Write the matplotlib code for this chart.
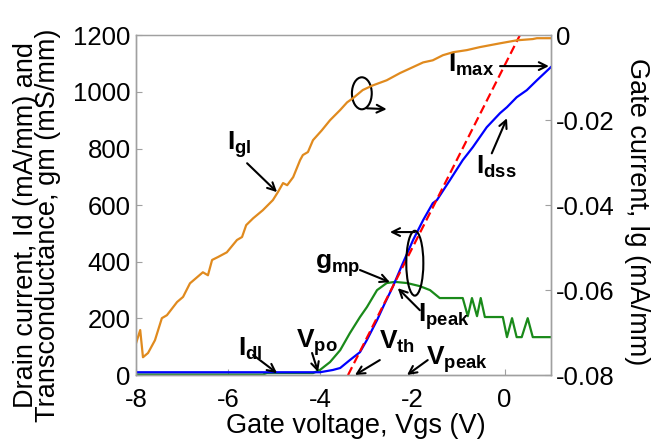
import numpy as np
import matplotlib
matplotlib.use('Agg')
import matplotlib.pyplot as plt
from matplotlib.patches import Ellipse

plt.rcParams['font.family'] = ['Liberation Sans', 'DejaVu Sans']
plt.rcParams['axes.unicode_minus'] = False
plt.rcParams['mathtext.fontset'] = 'custom'
plt.rcParams['mathtext.rm'] = 'Liberation Sans'
plt.rcParams['mathtext.bf'] = 'Liberation Sans:bold'

# gate leakage current Ig (right axis, mA/mm)
vg_ig = [-8.00, -7.91, -7.85, -7.74, -7.59, -7.44, -7.33, -7.11, -6.98, -6.83,
         -6.55, -6.44, -6.35, -6.22, -6.03, -5.81, -5.70, -5.61, -5.46, -5.25,
         -5.03, -4.92, -4.81, -4.72, -4.59, -4.44, -4.38, -4.27, -4.16, -3.97,
         -3.79, -3.57, -3.42, -3.29, -3.08, -2.86, -2.56, -2.27, -1.99, -1.77,
         -1.56, -1.34, -1.12, -0.82, -0.54, -0.10, 0.26, 0.61, 0.70, 1.00]
ig = [-0.0725, -0.0694, -0.0758, -0.0748, -0.0718, -0.0666, -0.0659, -0.0628, -0.0616, -0.0584,
      -0.0558, -0.0565, -0.0529, -0.0522, -0.0511, -0.0482, -0.0475, -0.0447, -0.0431, -0.0412,
      -0.0388, -0.0369, -0.0348, -0.0353, -0.0334, -0.0294, -0.0282, -0.0275, -0.0247, -0.0224,
      -0.0200, -0.0176, -0.0158, -0.0148, -0.0129, -0.0118, -0.0106, -0.0089, -0.0075, -0.0064,
      -0.0059, -0.0047, -0.0040, -0.0035, -0.0028, -0.0019, -0.0012, -0.0009, -0.0007, -0.0007]

# drain current Id (mA/mm)
vg_id = [-8.00, -4.01, -3.73, -3.57, -3.36, -3.14, -2.99, -2.77, -2.60, -2.43,
         -2.21, -1.99, -1.77, -1.56, -1.47, -1.19, -0.91, -0.69, -0.39, -0.10,
         0.05, 0.26, 0.48, 0.70, 1.00]
id_ = [10, 10, 18, 25, 53, 81, 124, 194, 254, 311,
       395, 476, 547, 607, 618, 688, 759, 805, 875, 925,
       946, 981, 1006, 1041, 1087]

# transconductance gm (mS/mm)
vg_gm = [-8.00, -5.25, -5.16, -4.16, -4.01, -3.79, -3.57, -3.36, -3.14, -2.99,
         -2.77, -2.56, -2.38, -2.12, -1.84, -1.62, -1.41, -0.91, -0.80, -0.71,
         -0.60, -0.52, -0.43, -0.04, 0.05, 0.16, 0.26, 0.37, 0.50, 0.61, 1.00]
gm = [2, 2, 7, 7, 18, 46, 88, 148, 205, 240,
      300, 325, 329, 325, 314, 300, 272, 272, 208, 272,
      208, 272, 205, 205, 134, 201, 134, 134, 201, 134, 134]

# linear extrapolation of Id at peak gm
vg_fit = [-3.40, 0.33]
id_fit = [0, 1200]

fig = plt.figure(figsize=(6.51, 4.46), dpi=100)
ax = fig.add_axes([0.209, 0.159, 0.637, 0.762])
ax2 = ax.twinx()

ax.plot(vg_id, id_, color='#0000ff', lw=1.6, zorder=3)
ax.plot(vg_gm, gm, color='#1a8a1a', lw=1.6, zorder=2)
ax.plot(vg_fit, id_fit, color='#ff0000', lw=1.6, ls=(0, (4, 2)), zorder=4)
ax2.plot(vg_ig, ig, color='#e08a1e', lw=1.6)

ax.set_xlim(-8, 1)
ax.set_ylim(0, 1200)
ax2.set_ylim(-0.08, 0)
ax.set_xticks([-8, -6, -4, -2, 0])
ax.set_yticks(np.arange(0, 1201, 200))
ax2.set_yticks([0, -0.02, -0.04, -0.06, -0.08])
ax2.set_yticklabels(['0', '-0.02', '-0.04', '-0.06', '-0.08'])

for a in (ax, ax2):
    for s in a.spines.values():
        s.set_color('#a0a0a0')
        s.set_linewidth(1.0)
    a.tick_params(direction='in', length=4, color='#a0a0a0', labelsize=18.5, pad=4)
ax.tick_params(axis='x', pad=9)
ax.spines['top'].set_color('#e8e8e8')

lab_fs = 19.5
ax.set_xlabel('Gate voltage, Vgs (V)', fontsize=lab_fs)
ax.xaxis.set_label_coords(0.53, -0.112)
ax.set_ylabel('Drain current, Id (mA/mm) and\nTransconductance, gm (mS/mm)',
              fontsize=lab_fs, linespacing=0.78)
ax.yaxis.set_label_coords(-0.181, 0.441)
ax2.set_ylabel('Gate current, Ig (mA/mm)', fontsize=lab_fs, rotation=-90, va='bottom')
ax2.yaxis.set_label_coords(1.176, 0.482)

arw = dict(arrowstyle='->', color='black', lw=1.5, mutation_scale=14,
           shrinkA=0, shrinkB=0)
fs = 19

# labels: (text, text pos, arrow start, arrow end)
notes = [
    (r'$\mathbf{I_{max}}$', (-0.73, 1095), (-0.10, 1091), (0.96, 1091)),
    (r'$\mathbf{I_{gl}}$', (-5.77, 812), (-5.59, 748), (-4.94, 646)),
    (r'$\mathbf{I_{dss}}$', (-0.19, 734), (-0.28, 783), (0.05, 907)),
    (r'$\mathbf{g_{mp}}$', (-3.62, 388), (-3.14, 371), (-2.49, 328)),
    (r'$\mathbf{I_{peak}}$', (-1.32, 208), (-1.84, 229), (-2.32, 307)),
    (r'$\mathbf{V_{po}}$', (-4.07, 113), (-4.18, 78), (-4.05, 11)),
    (r'$\mathbf{I_{dl}}$', (-5.53, 92), (-5.46, 71), (-4.94, 7)),
    (r'$\mathbf{V_{th}}$', (-2.34, 116), (-2.71, 53), (-3.25, 0)),
    (r'$\mathbf{V_{peak}}$', (-1.04, 53), (-1.67, 53), (-2.12, 0)),
]
for txt, tpos, a0, a1 in notes:
    ax.text(tpos[0], tpos[1], txt, fontsize=fs, ha='center', va='center', zorder=6)
    ax.annotate('', xy=a1, xytext=a0, arrowprops=arw, zorder=6)

# ellipses marking which axis each curve belongs to
ax.add_patch(Ellipse((-3.10, 995), 0.43, 113, fill=False, ec='black', lw=1.5, zorder=6))
ax.annotate('', xy=(-2.56, 939), xytext=(-2.99, 942), arrowprops=arw, zorder=6)
ax.add_patch(Ellipse((-1.95, 395), 0.37, 229, fill=False, ec='black', lw=1.5, zorder=6))
ax.annotate('', xy=(-2.49, 505), xytext=(-1.95, 505), arrowprops=arw, zorder=6)

fig.savefig('out.png', dpi=100)
